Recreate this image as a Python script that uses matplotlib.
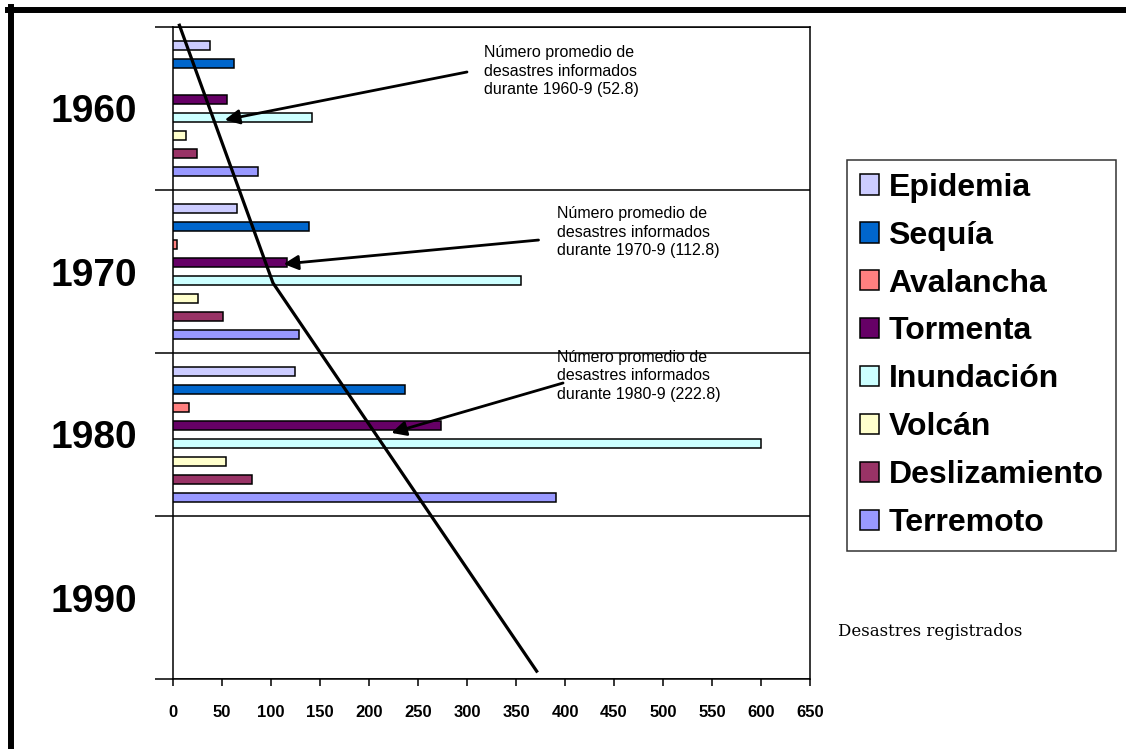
import numpy as np
import matplotlib.pyplot as plt
from matplotlib.lines import Line2D

plt.rcParams['font.family'] = ['Liberation Sans', 'DejaVu Sans']

# decades on the category axis (top to bottom)
decades = ['1960', '1970', '1980', '1990']

# disaster types, in the order the bars are stacked inside each decade
tipos = ['Epidemia', 'Sequía', 'Avalancha', 'Tormenta',
         'Inundación', 'Volcán', 'Deslizamiento', 'Terremoto']
colores = ['#CCCCFF', '#0066CC', '#FF8080', '#660066',
           '#CCFFFF', '#FFFFCC', '#993366', '#9999FF']

# registered disasters per decade (1960, 1970, 1980, 1990)
epidemia = [38, 65, 124, 0]
sequia = [62, 139, 237, 0]
avalancha = [0, 4, 16, 0]
tormenta = [55, 116, 273, 0]
inundacion = [142, 355, 600, 0]
volcan = [13, 26, 54, 0]
deslizamiento = [24, 51, 81, 0]
terremoto = [87, 129, 391, 0]
series = [epidemia, sequia, avalancha, tormenta,
          inundacion, volcan, deslizamiento, terremoto]

# average number of disasters per decade (annotations)
promedios = [52.8, 112.8, 222.8]
periodos = ['1960-9', '1970-9', '1980-9']

# hand-drawn trend line (value, decade position)
trend_x = [6, 102, 372]
trend_y = [-0.52, 1.07, 3.46]

fig = plt.figure(figsize=(11.26, 7.49), dpi=100)
ax = fig.add_axes([173 / 1126, 1 - 679 / 749, (810 - 173) / 1126, (679 - 27) / 749])

y = np.arange(len(decades))
slot = 0.1104
alto = 0.055
for i, (vals, col, nom) in enumerate(zip(series, colores, tipos)):
    vals = np.array(vals, dtype=float)
    pos = y + (i - 3.5) * slot
    keep = vals > 0
    ax.barh(pos[keep], vals[keep], height=alto, color=col,
            edgecolor='black', linewidth=1.1, zorder=3)
    # legend proxy
    ax.barh([np.nan], [np.nan], color=col, edgecolor='black',
            linewidth=1.1, label=nom)

ax.set_xlim(0, 650)
ax.set_ylim(3.5, -0.5)

ax.set_xticks(np.arange(0, 651, 50))
ax.tick_params(axis='x', direction='out', length=5, width=1.1, pad=14,
               labelsize=12)
for t in ax.get_xticklabels():
    t.set_fontweight('bold')

ax.set_yticks(y)
ax.set_yticklabels(decades, fontsize=28, fontweight='bold')
ax.tick_params(axis='y', which='major', length=0, pad=26)
ax.set_yticks(np.arange(-0.5, 3.6, 1), minor=True)
ax.tick_params(axis='y', which='minor', direction='out', length=13, width=1.1)
ax.grid(which='minor', axis='y', color='black', linewidth=1.1, zorder=1)

for s in ax.spines.values():
    s.set_linewidth(1.1)

ax.plot(trend_x, trend_y, color='black', linewidth=2.3, zorder=5,
        clip_on=False, solid_capstyle='butt')

# annotations with arrows
text_pos = [(317, -0.39), (392, 0.60), (392, 1.48)]
tail_pos = [(300, -0.224), (373, 0.807), (398, 1.684)]
head_y = [0.07, 0.954, 1.99]
for k in range(3):
    ax.text(text_pos[k][0], text_pos[k][1],
            'Número promedio de\ndesastres informados\ndurante %s (%s)' % (periodos[k], promedios[k]),
            fontsize=11.5, va='top', ha='left', linespacing=1.3, zorder=6)
    ax.annotate('', xy=(promedios[k], head_y[k]), xytext=tail_pos[k],
                arrowprops=dict(arrowstyle='-|>', color='black', lw=2,
                                mutation_scale=22, shrinkA=0, shrinkB=0),
                zorder=6)

leg = fig.legend(loc='upper left', bbox_to_anchor=(847 / 1126, 1 - 160 / 749),
                 prop={'weight': 'bold', 'size': 23}, frameon=True,
                 fancybox=False, edgecolor='black', handlelength=0.6,
                 handleheight=0.6, handletextpad=0.3, labelspacing=0.56,
                 borderpad=0.4, borderaxespad=0)
leg.get_frame().set_linewidth(1.1)

fig.text(838 / 1126, 1 - 631 / 749, 'Desastres registrados',
         family='DejaVu Serif', fontsize=12, va='center', ha='left')

# page border (top and left)
fig.add_artist(Line2D([8 / 1126, 1], [1 - 10 / 749, 1 - 10 / 749],
                      transform=fig.transFigure, color='black', linewidth=4.3))
fig.add_artist(Line2D([10.5 / 1126, 10.5 / 1126], [1 - 7 / 749, 0],
                      transform=fig.transFigure, color='black', linewidth=4.3))

fig.savefig('out.png', dpi=100)
